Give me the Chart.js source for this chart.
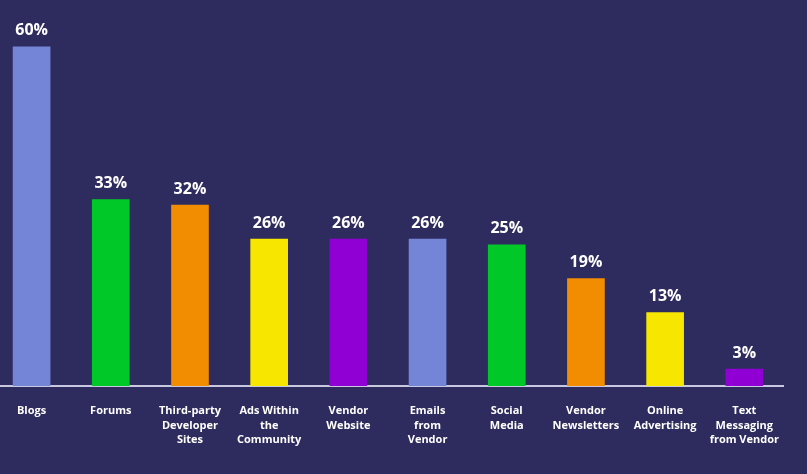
<!DOCTYPE html>
<html><head><meta charset="utf-8">
<script src="https://cdn.jsdelivr.net/npm/chart.js@4"></script>
<style>
html,body{margin:0;padding:0;background:#2e2c5e;overflow:hidden}
#wrap{position:absolute;left:-8px;top:0;width:805px;height:474px}
</style></head><body>
<div id="wrap"><canvas id="c"></canvas></div>
<script>
const categories=[["Blogs"],["Forums"],["Third-party","Developer","Sites"],["Ads Within","the","Community"],["Vendor","Website"],["Emails","from","Vendor"],["Social","Media"],["Vendor","Newsletters"],["Online","Advertising"],["Text","Messaging","from Vendor"]];
const values=[60,33,32,26,26,26,25,19,13,3];
const colors=["#7484d6","#00c828","#f28c00","#f7e600","#9000d4","#7484d6","#00c828","#f28c00","#f7e600","#9000d4"];
const labelPlugin={id:'vl',afterDatasetsDraw(ch){const ctx=ch.ctx;const m=ch.getDatasetMeta(0);ctx.save();ctx.fillStyle='#fff';ctx.font='bold 16px "Open Sans",sans-serif';ctx.textAlign='center';ctx.textBaseline='bottom';m.data.forEach((b,i)=>ctx.fillText(values[i]+'%',b.x,b.y-8));ctx.restore();}};
new Chart(document.getElementById('c'),{type:'bar',data:{labels:categories,datasets:[{data:values,backgroundColor:colors,barThickness:37}]},
options:{responsive:true,maintainAspectRatio:false,animation:false,layout:{padding:0},plugins:{legend:{display:false},tooltip:{enabled:false}},
scales:{y:{display:false,min:0,max:68.3},x:{afterFit(s){s.height=88;},grid:{display:false,drawTicks:false},border:{display:true,color:'#c8c8e0',width:2},
ticks:{color:'#fff',padding:18,maxRotation:0,autoSkip:false,font:{family:'"Open Sans",sans-serif',size:11,weight:'bold',lineHeight:1.3}}}}},plugins:[labelPlugin]});
</script></body></html>
